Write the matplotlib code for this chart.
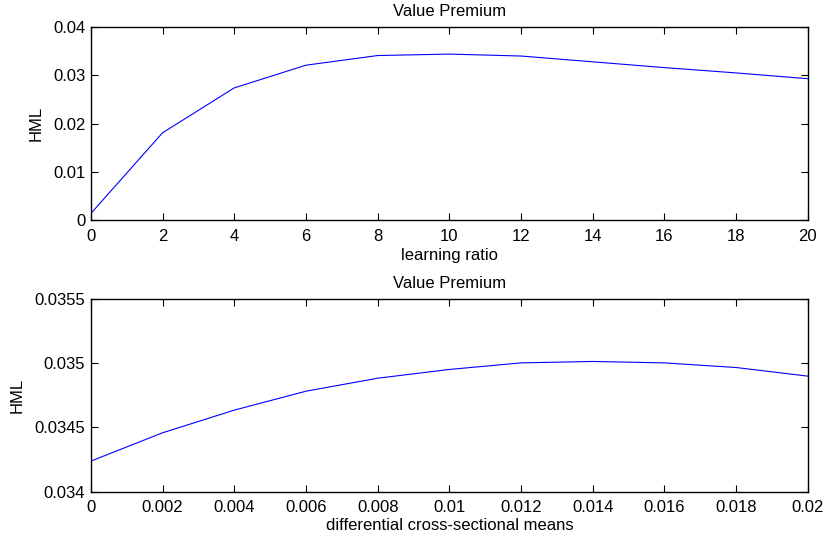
import matplotlib
matplotlib.use('Agg')
import matplotlib.pyplot as plt

# learning ratio sweep (top panel)
learning_ratio = [0, 2, 4, 6, 8, 10, 12, 14, 16, 18, 20]
hml_learning = [0.00139, 0.0181, 0.0274, 0.0321, 0.0341, 0.0344,
                0.0340, 0.0328, 0.0316, 0.0305, 0.0293]

# differential cross-sectional means sweep (bottom panel)
diff_means = [0, 0.002, 0.004, 0.006, 0.008, 0.010,
              0.012, 0.014, 0.016, 0.018, 0.020]
hml_diff = [0.034238, 0.034458, 0.034634, 0.034781, 0.034882, 0.034950,
            0.035001, 0.035012, 0.035001, 0.034965, 0.034898]

xticks_top = [0, 2, 4, 6, 8, 10, 12, 14, 16, 18, 20]
yticks_top = [0, 0.01, 0.02, 0.03, 0.04]
ytick_labels_top = ['0', '0.01', '0.02', '0.03', '0.04']
xticks_bot = [0, 0.002, 0.004, 0.006, 0.008, 0.01, 0.012, 0.014, 0.016, 0.018, 0.02]
xtick_labels_bot = ['0', '0.002', '0.004', '0.006', '0.008', '0.01',
                    '0.012', '0.014', '0.016', '0.018', '0.02']
yticks_bot = [0.034, 0.0345, 0.035, 0.0355]
ytick_labels_bot = ['0.034', '0.0345', '0.035', '0.0355']

plt.rcParams['font.family'] = ['Liberation Sans', 'DejaVu Sans']
fs = 12

fig = plt.figure(figsize=(8.26, 5.41), dpi=100)
ax1 = fig.add_axes([0.110, 0.593, 0.868, 0.357])
ax2 = fig.add_axes([0.110, 0.091, 0.868, 0.357])


def style_axes(ax):
    # matlab look: inward ticks on every side, black frame
    ax.tick_params(direction='in', length=5, width=0.8, top=True, right=True,
                   colors='black', labelsize=fs)
    ax.tick_params(axis='x', pad=6)
    ax.tick_params(axis='y', pad=4)
    for s in ax.spines.values():
        s.set_linewidth(1.0)
        s.set_color('black')


ax1.plot(learning_ratio, hml_learning, color='#0000ff', linewidth=0.8)
ax1.set_xlim(0, 20)
ax1.set_ylim(0, 0.04)
ax1.set_xticks(xticks_top)
ax1.set_yticks(yticks_top)
ax1.set_yticklabels(ytick_labels_top)
ax1.set_title('Value Premium', fontsize=fs, pad=8)
ax1.set_xlabel('learning ratio', fontsize=fs, labelpad=3)
ax1.set_ylabel('HML', fontsize=fs, labelpad=7)
style_axes(ax1)

ax2.plot(diff_means, hml_diff, color='#0000ff', linewidth=0.8)
ax2.set_xlim(0, 0.02)
ax2.set_ylim(0.034, 0.0355)
ax2.set_xticks(xticks_bot)
ax2.set_xticklabels(xtick_labels_bot)
ax2.set_yticks(yticks_bot)
ax2.set_yticklabels(ytick_labels_bot)
ax2.set_title('Value Premium', fontsize=fs, pad=8)
ax2.set_xlabel('differential cross-sectional means', fontsize=fs, labelpad=2)
ax2.set_ylabel('HML', fontsize=fs, labelpad=7)
style_axes(ax2)

fig.savefig('out.png', dpi=100)
